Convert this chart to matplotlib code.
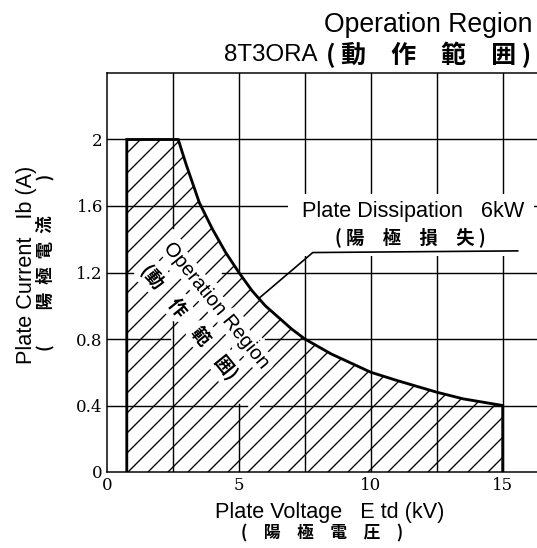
import matplotlib
matplotlib.use("Agg")
import matplotlib.pyplot as plt
import matplotlib.patheffects as pe
from matplotlib.patches import Rectangle

# ---- data ----
voltage_ticks = [0, 5, 10, 15]
voltage_tick_labels = ["0", "5", "10", "15"]
current_ticks = [0, 0.4, 0.8, 1.2, 1.6, 2.0]
current_tick_labels = ["0", "0.4", "0.8", "1.2", "1.6", "2"]
grid_v = [2.5, 5, 7.5, 10, 12.5, 15]
grid_i = [0.4, 0.8, 1.2, 1.6, 2.0]

min_voltage = 0.75     # kV, left edge of operation region
max_current = 2.0      # A
max_voltage = 15.0     # kV
# plate dissipation (6 kW) boundary
diss_v = [2.7, 3.0, 3.5, 4.0, 4.5, 5.0, 5.5, 6.0, 7.0, 7.5, 8.5, 10.0, 11.0, 12.5, 13.5, 15.0]
diss_i = [2.0, 1.85, 1.62, 1.46, 1.32, 1.2, 1.09, 1.0, 0.86, 0.8, 0.71, 0.6, 0.55, 0.48, 0.44, 0.4]
# leader line from the curve to the label
leader_v = [5.8, 7.8, 15.57]
leader_i = [1.05, 1.32, 1.33]

DPI = 120
W, H = 537, 548
plt.rcParams["hatch.linewidth"] = 0.8
plt.rcParams["hatch.color"] = "black"

fig = plt.figure(figsize=(W / DPI, H / DPI), dpi=DPI)
ax = fig.add_axes([107 / W, 76 / H, 430 / W, 399 / H])
ax.set_xlim(0, 16.3)
ax.set_ylim(0, 2.4)

# grid with gaps like the printed chart
vgaps = {2.5: [(0.93, 1.47)], 5: [(0.41, 1.21)]}
hgaps = {1.2: [(1.0, 4.35)], 0.8: [(2.4, 6.0)], 0.4: [(5.3, 5.8)]}
def segments(lo, hi, gaps):
    segs, start = [], lo
    for a, b in sorted(gaps):
        segs.append((start, a))
        start = b
    segs.append((start, hi))
    return segs
for x in grid_v:
    for a, b in segments(0, 2.4, vgaps.get(x, [])):
        ax.plot([x, x], [a, b], color="black", lw=0.85, zorder=1)
for y in grid_i:
    for a, b in segments(0, 16.3, hgaps.get(y, [])):
        ax.plot([a, b], [y, y], color="black", lw=0.85, zorder=1)

# operation region
reg_x = [min_voltage, min_voltage] + diss_v + [max_voltage]
reg_y = [0, max_current] + diss_i + [0]
ax.fill(reg_x, reg_y, facecolor="none", edgecolor="black", hatch="//", linewidth=0, zorder=2)
ax.plot(reg_x, reg_y, color="black", lw=1.7, zorder=4, solid_joinstyle="miter")

# white box behind dissipation label
ax.add_patch(Rectangle((6.85, 1.30), 9.35, 0.37, facecolor="white", edgecolor="none", zorder=2.5))
ax.plot(leader_v, leader_i, color="black", lw=1.0, zorder=4)

latin = "Liberation Sans"
cjk = "Noto Sans CJK JP"
halo = [pe.withStroke(linewidth=7, foreground="white")]

ax.text(11.59, 1.533, "Plate Dissipation   6kW", family=latin, fontsize=13,
        ha="center", va="baseline", zorder=5)
ax.text(11.5, 1.413, "( 陽\u3000極\u3000損\u3000失 )", family=cjk, fontsize=11,
        fontweight="bold", ha="center", va="center", zorder=5)

ax.text(4.17, 1.0, "Operation Region", family=latin, fontsize=12, rotation=-51,
        rotation_mode="anchor", ha="center", va="center", zorder=5, path_effects=halo)
ax.text(3.14, 0.90, "(動\u3000作\u3000範\u3000囲)", family=cjk, fontsize=11, fontweight="bold",
        rotation=-51, rotation_mode="anchor", ha="center", va="center", zorder=5,
        path_effects=halo)

# axes styling
ax.spines["right"].set_visible(False)
for s in ["left", "bottom", "top"]:
    ax.spines[s].set_linewidth(0.9)
ax.set_xticks(voltage_ticks)
ax.set_xticklabels(voltage_tick_labels, family="DejaVu Serif", fontsize=10)
ax.set_yticks(current_ticks)
ax.set_yticklabels(current_tick_labels, family="DejaVu Serif", fontsize=10)
ax.tick_params(axis="x", length=0, pad=3)
ax.tick_params(axis="y", length=0, pad=2.5)

# titles & labels (figure pixel positions)
def fx(px): return px / W
def fy(py): return 1 - py / H
fig.text(fx(533), fy(32.5), "Operation Region", family=latin, fontsize=16, ha="right", va="baseline")
fig.text(fx(318), fy(55), "8T3ORA", family=latin, fontsize=14.5, ha="right", va="center")
fig.text(fx(531), fy(55), "( 動\u3000作\u3000範\u3000囲 )", family=cjk, fontsize=15,
         fontweight="bold", ha="right", va="center")

fig.text(fx(330), fy(518), "Plate Voltage   E td (kV)", family=latin, fontsize=13, ha="center", va="baseline")
fig.text(fx(322), fy(533), "(\u3000陽\u3000極\u3000電\u3000圧\u3000)", family=cjk, fontsize=10,
         fontweight="bold", ha="center", va="center")

fig.text(fx(27), fy(265), "Plate Current   Ib (A)", family=latin, fontsize=13, rotation=90,
         ha="center", va="center")
fig.text(fx(45), fy(262), "(\u3000\u3000陽  極  電  流\u3000\u3000)", family=cjk, fontsize=10.5,
         fontweight="bold", rotation=90, ha="center", va="center")

fig.savefig("out.png", dpi=DPI)
